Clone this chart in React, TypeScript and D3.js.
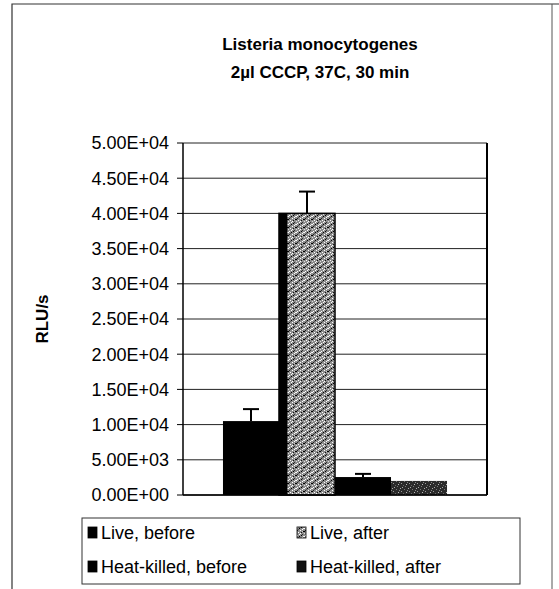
import React from 'react';
import * as d3 from 'd3';

const series = ['Live, before', 'Live, after', 'Heat-killed, before', 'Heat-killed, after'];
const values = [10500, 40000, 2550, 2000];
const errors = [1700, 3100, 450, 0];
const yTicks = [0, 5000, 10000, 15000, 20000, 25000, 30000, 35000, 40000, 45000, 50000];
const titleLines = ['Listeria monocytogenes', '2µl CCCP, 37C, 30 min'];
const yLabel = 'RLU/s';

const W = 559;
const H = 589;
const margin = { top: 143, right: 72, bottom: 94, left: 183 };
const font = 'Arial, "Liberation Sans", Helvetica, sans-serif';

const fills = ['#000', 'url(#stipLight)', '#000', 'url(#stipDark)'];
const swatchFills = ['#000', 'url(#stipLight)', '#000', '#111'];

const fmt = (v: number) => {
  const [m, e] = v.toExponential(2).toUpperCase().split('E');
  const sign = e[0] === '-' ? '-' : '+';
  const digits = e.replace(/[+-]/, '').padStart(2, '0');
  return `${m}E${sign}${digits}`;
};

// hand-placed dots for the stippled fills (8x8 tile)
const lightDots = [
  [0, 0, '#fff'], [3, 0, '#000'], [6, 1, '#fff'], [1, 2, '#222'], [4, 2, '#fff'],
  [7, 3, '#000'], [2, 4, '#fff'], [5, 4, '#111'], [0, 5, '#ddd'], [3, 6, '#fff'],
  [6, 6, '#333'], [1, 7, '#fff'], [5, 7, '#000'], [7, 0, '#eee'], [2, 1, '#555'],
  [4, 5, '#fff'], [6, 3, '#ccc'], [0, 3, '#000'],
];
const darkDots = [
  [0, 0, '#aaa'], [4, 1, '#777'], [1, 3, '#999'], [6, 4, '#bbb'], [3, 5, '#666'],
  [7, 2, '#888'], [2, 7, '#aaa'], [5, 6, '#777'],
];

export default function App() {
  const innerW = W - margin.left - margin.right;
  const innerH = H - margin.top - margin.bottom;
  const x0 = margin.left;
  const y0 = margin.top;

  const y = d3.scaleLinear().domain([0, 50000]).range([y0 + innerH, y0]);
  const groupW = innerW * 0.737;
  const x = d3
    .scaleBand<string>()
    .domain(series)
    .range([x0 + (innerW - groupW) / 2, x0 + (innerW + groupW) / 2])
    .padding(0);
  const bw = x.bandwidth();

  return (
    <div style={{ position: 'fixed', left: 0, top: 0 }}>
      <svg width={W} height={H} style={{ display: 'block', background: '#fff' }} fontFamily={font}>
        <defs>
          <pattern id="stipLight" width={8} height={8} patternUnits="userSpaceOnUse">
            <rect width={8} height={8} fill="#8c8c8c" />
            {lightDots.map(([dx, dy, c], i) => (
              <rect key={i} x={dx as number} y={dy as number} width={1} height={1} fill={c as string} />
            ))}
          </pattern>
          <pattern id="stipDark" width={8} height={8} patternUnits="userSpaceOnUse">
            <rect width={8} height={8} fill="#2a2a2a" />
            {darkDots.map(([dx, dy, c], i) => (
              <rect key={i} x={dx as number} y={dy as number} width={1} height={1} fill={c as string} />
            ))}
          </pattern>
        </defs>

        {/* outer frame */}
        <path d={`M12,${H} V4 H${W}`} fill="none" stroke="#333" strokeWidth={1.2} />
        <line x1={552} x2={552} y1={4} y2={H} stroke="#555" strokeWidth={1} />

        {/* title */}
        {titleLines.map((t, i) => (
          <text key={i} x={320} y={50 + i * 28} textAnchor="middle" fontWeight="bold" fontSize={17} fill="#000">
            {t}
          </text>
        ))}

        {/* gridlines */}
        {yTicks.map((t) => (
          <line key={t} x1={x0} x2={x0 + innerW} y1={y(t)} y2={y(t)} stroke="#222" strokeWidth={1} />
        ))}

        {/* bars */}
        {series.map((s, i) => (
          <g key={s}>
            <rect
              x={x(s)}
              y={y(values[i])}
              width={bw}
              height={y(0) - y(values[i])}
              fill={fills[i]}
              stroke={i === 1 ? '#000' : 'none'}
              strokeWidth={1.5}
            />
            {i === 1 && (
              <rect x={x(s)} y={y(values[i])} width={bw * 0.15} height={y(0) - y(values[i])} fill="#000" />
            )}
          </g>
        ))}

        {/* error bars */}
        {series.map((s, i) =>
          errors[i] > 0 ? (
            <g key={s} stroke="#000" strokeWidth={2}>
              <line
                x1={(x(s) as number) + bw / 2}
                x2={(x(s) as number) + bw / 2}
                y1={y(values[i])}
                y2={y(values[i] + errors[i])}
              />
              <line
                x1={(x(s) as number) + bw / 2 - 8}
                x2={(x(s) as number) + bw / 2 + 8}
                y1={y(values[i] + errors[i])}
                y2={y(values[i] + errors[i])}
              />
            </g>
          ) : null
        )}

        {/* plot border: right side and axes */}
        <line x1={x0 + innerW} x2={x0 + innerW} y1={y0} y2={y0 + innerH} stroke="#000" strokeWidth={2} />
        <line x1={x0} x2={x0} y1={y0} y2={y0 + innerH} stroke="#000" strokeWidth={1.5} />
        <line x1={x0} x2={x0 + innerW} y1={y0 + innerH} y2={y0 + innerH} stroke="#000" strokeWidth={1.5} />

        {/* y ticks & labels */}
        {yTicks.map((t) => (
          <g key={t}>
            <line x1={x0 - 6} x2={x0} y1={y(t)} y2={y(t)} stroke="#000" strokeWidth={1} />
            <text x={x0 - 14} y={y(t)} dy="0.36em" textAnchor="end" fontSize={18} fill="#000">
              {fmt(t)}
            </text>
          </g>
        ))}

        {/* y label */}
        <text
          transform={`translate(48,${y0 + innerH / 2}) rotate(-90)`}
          textAnchor="middle"
          fontWeight="bold"
          fontSize={17}
          fill="#000"
        >
          {yLabel}
        </text>

        {/* legend */}
        <rect x={82} y={518} width={438} height={66} fill="#fff" stroke="#333" strokeWidth={1} />
        {series.map((s, i) => {
          const col = i % 2;
          const row = Math.floor(i / 2);
          const lx = col === 0 ? 88 : 297;
          const ly = 533 + row * 34;
          return (
            <g key={s}>
              <rect x={lx} y={ly - 6} width={9} height={11} fill={swatchFills[i]} stroke="#000" strokeWidth={0.8} />
              <text x={lx + 13} y={ly} dy="0.36em" fontSize={18} fill="#000">
                {s}
              </text>
            </g>
          );
        })}
      </svg>
    </div>
  );
}
